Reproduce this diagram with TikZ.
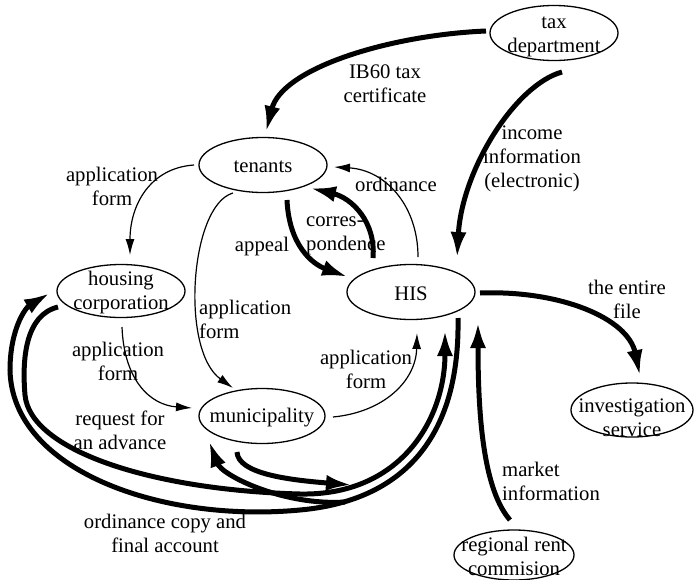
\documentclass[tikz,border=0pt]{standalone}
\usepackage{fontspec}
\setmainfont{Liberation Serif}
\usetikzlibrary{arrows.meta,calc,shapes.geometric}

\begin{document}
\begin{tikzpicture}[x=1pt,y=-1pt,
  font=\fontsize{20.7}{24}\selectfont,
  agent/.style={draw, ellipse, line width=1.3pt, minimum width=128pt,
                minimum height=55pt, inner sep=0pt},
  caption/.style={align=center, inner sep=0pt},
  leftcaption/.style={align=left, inner sep=0pt, anchor=west},
  flow/.style={line width=1.2pt, -{Latex[length=16pt,width=9pt]}},
  heavy/.style={line width=5pt, -{Latex[length=26pt,width=16pt]}},
]
\useasboundingbox (0,0) rectangle (694,579);

% actors
\node[agent] (tax) at (554,33) {};
\node[caption] (tax-t) at ($(tax)+(0,4)$) {tax\\department};
\node[agent] (tenants) at (263,165) {};
\node[caption] (tenants-t) at ($(tenants)+(0,2)$) {tenants};
\node[agent] (HIS) at (411,292) {};
\node[caption] (HIS-t) at ($(HIS)+(0,2)$) {HIS};
\node[agent, minimum height=53pt] (housing) at (121,291) {};
\node[caption] (housing-t) at ($(housing)+(0,2)$) {housing\\corporation};
\node[agent, minimum width=126pt] (muni) at (262,416) {};
\node[caption] (muni-t) at ($(muni)+(0,2)$) {municipality};
\node[agent, minimum width=122pt, minimum height=54pt] (invest) at (632,410) {};
\node[caption] (invest-t) at ($(invest)+(0,8)$) {investigation\\service};
\node[agent, minimum width=120pt, minimum height=50pt] (regional) at (514,555) {};
\node[caption] (regional-t) at ($(regional)+(0,1)$) {regional rent\\commision};

% points where flows join or leave the lower bundle
\coordinate (join) at (352,485);
\coordinate (split) at (345,502);

% heavy flows
\draw[heavy] ($(tax)+(-68,-2)$) .. controls (390,35) and (282,68) .. ($(tenants)+(3,-33)$);
\draw[heavy] ($(tax)+(8,39)$) .. controls (515,85) and (462,170) .. ($(HIS)+(46,-34)$);
\draw[heavy] ($(HIS)+(-38,-34)$) .. controls (376,222) and (352,198) .. ($(tenants)+(47,23)$);
\draw[heavy] ($(tenants)+(24,35)$) .. controls (289,245) and (312,264) .. ($(HIS)+(-63,-15)$);
\draw[heavy] ($(HIS)+(69,1)$) .. controls (560,290) and (628,318) .. ($(invest)+(8,-34)$);
\draw[heavy] ($(regional)+(-4,-35)$) .. controls (484,490) and (478,420) .. ($(HIS)+(67,30)$);
\draw[heavy] ($(HIS)+(47,26)$) .. controls (460,430) and (410,500) .. (300,510)
  .. controls (160,523) and (12,470) .. (10,370)
  .. controls (10,330) and (25,308) .. ($(housing)+(-71,2)$);
\draw[heavy] ($(housing)+(-63,16)$) .. controls (25,315) and (22,360) .. (25,395)
  .. controls (30,450) and (150,490) .. (300,494)
  .. controls (400,496) and (445,420) .. ($(HIS)+(34,38)$);
\draw[heavy] ($(muni)+(-25,36)$) .. controls (238,474) and (290,480) .. (join);
\draw[heavy] (split) .. controls (285,506) and (222,476) .. ($(muni)+(-53,25)$);

% thin flows
\draw[flow] ($(HIS)+(7,-35)$) .. controls (418,205) and (385,170) .. ($(tenants)+(71,2)$);
\draw[flow] ($(tenants)+(-69,0)$) .. controls (150,168) and (130,205) .. ($(housing)+(9,-36)$);
\draw[flow] ($(tenants)+(-30,28)$) .. controls (190,205) and (180,350) .. ($(muni)+(-29,-28)$);
\draw[flow] ($(housing)+(1,36)$) .. controls (124,380) and (150,405) .. ($(muni)+(-70,-8)$);
\draw[flow] ($(muni)+(71,1)$) .. controls (385,412) and (416,380) .. ($(HIS)+(6,41)$);

% flow labels
\node[caption] (l-ib60) at (385,84) {IB60 tax\\certificate};
\node[caption] (l-income) at (532,159) {income\\information\\(electronic)};
\node[caption] (l-ord) at (396,184) {ordinance};
\node[leftcaption] (l-corr) at (306,236) {corres-\\pondence};
\node[caption] (l-appeal) at (262,247) {appeal};
\node[caption] (l-app1) at (112,186) {application\\form};
\node[leftcaption] (l-app2) at (199,319) {application\\form};
\node[caption] (l-app3) at (118,361) {application\\form};
\node[caption] (l-app4) at (366,369) {application\\form};
\node[caption] (l-file) at (627,299) {the entire\\file};
\node[leftcaption] (l-market) at (502,481) {market\\information};
\node[caption] (l-adv) at (120,430) {request for\\an advance};
\node[caption] (l-copy) at (165,533) {ordinance copy and\\final account};
\end{tikzpicture}
\end{document}
